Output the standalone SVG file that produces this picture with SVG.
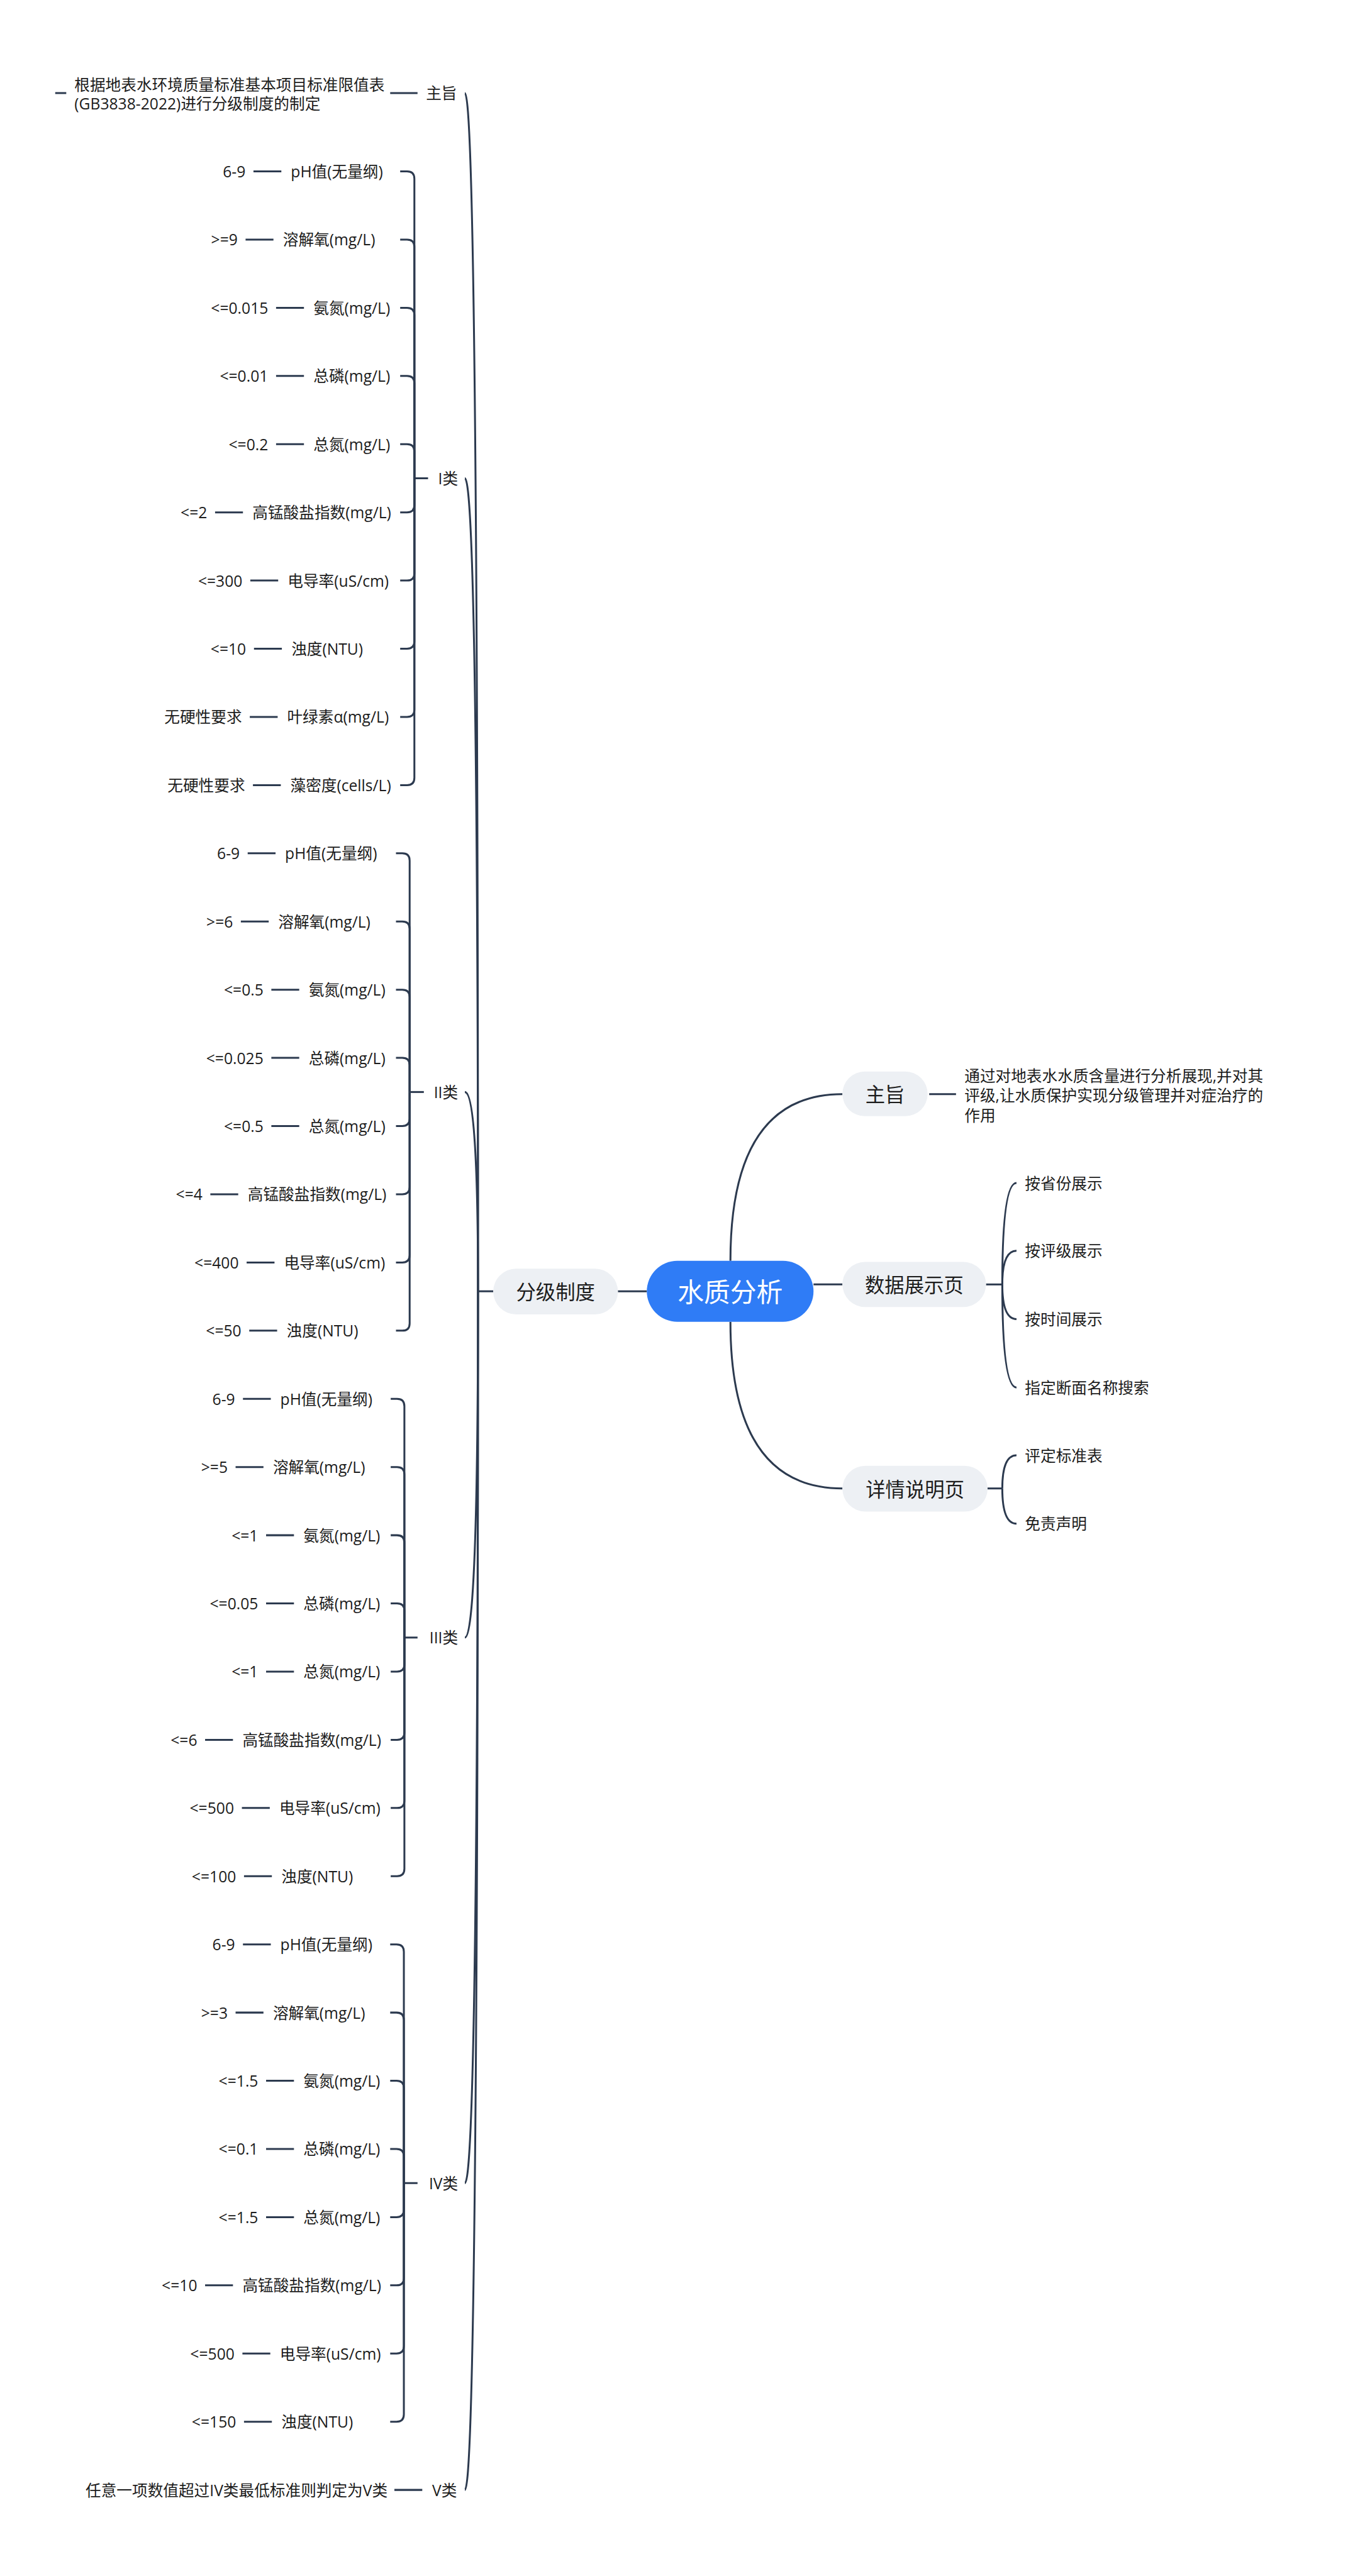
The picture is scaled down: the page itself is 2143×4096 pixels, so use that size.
<svg xmlns="http://www.w3.org/2000/svg" width="2143" height="4096" viewBox="0 0 2143 4096">
<style>
text{font-family:"Open Sans","Noto Sans CJK SC",sans-serif;dominant-baseline:central;fill:#1c1c1c}
.t{font-size:29.5px}
.v{font-size:29.5px;text-anchor:end}
.c{font-size:29.5px;text-anchor:end}
.m{font-size:37.5px;text-anchor:middle}
.r{font-size:50px;text-anchor:middle;fill:#ffffff}
.ln{fill:none;stroke:#2c3a4f;stroke-width:3.6;stroke-linecap:butt}
.b1{fill:#edf0f4}
</style>
<rect width="2143" height="4096" fill="#ffffff"/>
<g transform="scale(0.836)">
<g id="connectors" class="ln">
<path d="M1175 2456 L1230 2456"/>
<path d="M938 2456 L909 2456"/>
<path d="M909 2456 Q909 177 884 177"/>
<path d="M909 2456 Q909 909.7 884 909.7"/>
<path d="M909 2456 Q909 2077 884 2077"/>
<path d="M909 2456 Q909 3114.6 884 3114.6"/>
<path d="M909 2456 Q909 4152.2 884 4152.2"/>
<path d="M909 2456 Q909 4735.8 884 4735.8"/>
<path d="M794 177 L742 177"/>
<path d="M105 177 L126 177"/>
<path d="M803 4735.8 L750 4735.8"/>
<path d="M814 909.7 L788 909.7"/>
<path d="M806 2077 L779 2077"/>
<path d="M794 3114.6 L769 3114.6"/>
<path d="M794 4152.2 L768 4152.2"/>
<path d="M788 909.7 L788 340 Q788 326 774 326 L761 326"/>
<path d="M788 909.7 L788 469.7 Q788 455.7 774 455.7 L761 455.7"/>
<path d="M788 909.7 L788 599.4 Q788 585.4 774 585.4 L761 585.4"/>
<path d="M788 909.7 L788 729.1 Q788 715.1 774 715.1 L761 715.1"/>
<path d="M788 909.7 L788 858.8 Q788 844.8 774 844.8 L761 844.8"/>
<path d="M788 909.7 L788 960.5 Q788 974.5 774 974.5 L761 974.5"/>
<path d="M788 909.7 L788 1090.2 Q788 1104.2 774 1104.2 L761 1104.2"/>
<path d="M788 909.7 L788 1219.9 Q788 1233.9 774 1233.9 L761 1233.9"/>
<path d="M788 909.7 L788 1349.6 Q788 1363.6 774 1363.6 L761 1363.6"/>
<path d="M788 909.7 L788 1479.3 Q788 1493.3 774 1493.3 L761 1493.3"/>
<path d="M779 2077 L779 1637 Q779 1623 765 1623 L753 1623"/>
<path d="M779 2077 L779 1766.7 Q779 1752.7 765 1752.7 L753 1752.7"/>
<path d="M779 2077 L779 1896.4 Q779 1882.4 765 1882.4 L753 1882.4"/>
<path d="M779 2077 L779 2026.1 Q779 2012.1 765 2012.1 L753 2012.1"/>
<path d="M779 2077 L779 2127.8 Q779 2141.8 765 2141.8 L753 2141.8"/>
<path d="M779 2077 L779 2257.5 Q779 2271.5 765 2271.5 L753 2271.5"/>
<path d="M779 2077 L779 2387.2 Q779 2401.2 765 2401.2 L753 2401.2"/>
<path d="M779 2077 L779 2516.9 Q779 2530.9 765 2530.9 L753 2530.9"/>
<path d="M769 3114.6 L769 2674.6 Q769 2660.6 755 2660.6 L743 2660.6"/>
<path d="M769 3114.6 L769 2804.3 Q769 2790.3 755 2790.3 L743 2790.3"/>
<path d="M769 3114.6 L769 2934 Q769 2920 755 2920 L743 2920"/>
<path d="M769 3114.6 L769 3063.7 Q769 3049.7 755 3049.7 L743 3049.7"/>
<path d="M769 3114.6 L769 3165.4 Q769 3179.4 755 3179.4 L743 3179.4"/>
<path d="M769 3114.6 L769 3295.1 Q769 3309.1 755 3309.1 L743 3309.1"/>
<path d="M769 3114.6 L769 3424.8 Q769 3438.8 755 3438.8 L743 3438.8"/>
<path d="M769 3114.6 L769 3554.5 Q769 3568.5 755 3568.5 L743 3568.5"/>
<path d="M768 4152.2 L768 3712.2 Q768 3698.2 754 3698.2 L742 3698.2"/>
<path d="M768 4152.2 L768 3841.9 Q768 3827.9 754 3827.9 L742 3827.9"/>
<path d="M768 4152.2 L768 3971.6 Q768 3957.6 754 3957.6 L742 3957.6"/>
<path d="M768 4152.2 L768 4101.3 Q768 4087.3 754 4087.3 L742 4087.3"/>
<path d="M768 4152.2 L768 4203 Q768 4217 754 4217 L742 4217"/>
<path d="M768 4152.2 L768 4332.7 Q768 4346.7 754 4346.7 L742 4346.7"/>
<path d="M768 4152.2 L768 4462.4 Q768 4476.4 754 4476.4 L742 4476.4"/>
<path d="M768 4152.2 L768 4592.1 Q768 4606.1 754 4606.1 L742 4606.1"/>
<path d="M482 326 L535 326"/>
<path d="M467 455.7 L520 455.7"/>
<path d="M525 585.4 L578 585.4"/>
<path d="M525 715.1 L578 715.1"/>
<path d="M525 844.8 L578 844.8"/>
<path d="M409 974.5 L462 974.5"/>
<path d="M476 1104.2 L529 1104.2"/>
<path d="M483 1233.9 L536 1233.9"/>
<path d="M475 1363.6 L528 1363.6"/>
<path d="M481 1493.3 L534 1493.3"/>
<path d="M471 1623 L524 1623"/>
<path d="M458 1752.7 L511 1752.7"/>
<path d="M516 1882.4 L569 1882.4"/>
<path d="M516 2012.1 L569 2012.1"/>
<path d="M516 2141.8 L569 2141.8"/>
<path d="M400 2271.5 L453 2271.5"/>
<path d="M469 2401.2 L522 2401.2"/>
<path d="M474 2530.9 L527 2530.9"/>
<path d="M462 2660.6 L515 2660.6"/>
<path d="M448 2790.3 L501 2790.3"/>
<path d="M506 2920 L559 2920"/>
<path d="M506 3049.7 L559 3049.7"/>
<path d="M506 3179.4 L559 3179.4"/>
<path d="M390 3309.1 L443 3309.1"/>
<path d="M460 3438.8 L513 3438.8"/>
<path d="M464 3568.5 L517 3568.5"/>
<path d="M462 3698.2 L515 3698.2"/>
<path d="M448 3827.9 L501 3827.9"/>
<path d="M506 3957.6 L559 3957.6"/>
<path d="M506 4087.3 L559 4087.3"/>
<path d="M506 4217 L559 4217"/>
<path d="M390 4346.7 L443 4346.7"/>
<path d="M461 4476.4 L514 4476.4"/>
<path d="M464 4606.1 L517 4606.1"/>
<path d="M1547 2443 L1602 2443"/>
<path d="M1389 2398 Q1389 2081 1602 2081"/>
<path d="M1389 2514 Q1389 2831 1602 2831"/>
<path d="M1767 2081 L1818 2081"/>
<path d="M1875 2443 L1906 2443"/>
<path d="M1906 2443 Q1906 2250 1933 2250"/>
<path d="M1906 2443 Q1906 2379 1933 2379"/>
<path d="M1906 2443 Q1906 2509 1933 2509"/>
<path d="M1906 2443 Q1906 2639 1933 2639"/>
<path d="M1878 2831 L1906 2831"/>
<path d="M1906 2831 Q1906 2768 1933 2768"/>
<path d="M1906 2831 Q1906 2898 1933 2898"/>
</g>
<g id="root"><rect x="1230" y="2398" width="317" height="116" rx="58" fill="#2f7cf6"/><text class="r" x="1388.5" y="2456">水质分析</text></g>
<g id="fenji"><rect class="b1" x="938" y="2413" width="237" height="87" rx="43.5"/><text class="m" x="1056.5" y="2456.5">分级制度</text></g>
<g id="zhuzhi-r"><rect class="b1" x="1602" y="2038" width="162" height="85" rx="42.5"/><text class="m" x="1683" y="2080.5">主旨</text></g>
<g id="shuju"><rect class="b1" x="1602" y="2400" width="273" height="86" rx="43"/><text class="m" x="1738.5" y="2443">数据展示页</text></g>
<g id="xiangqing"><rect class="b1" x="1602" y="2788" width="276" height="87" rx="43.5"/><text class="m" x="1740" y="2831.5">详情说明页</text></g>
<g id="zhuzhi-r-desc"><text class="t" x="1834" y="2046">通过对地表水水质含量进行分析展现,并对其</text><text class="t" x="1834" y="2083.5">评级,让水质保护实现分级管理并对症治疗的</text><text class="t" x="1834" y="2121">作用</text></g>
<g id="sj1"><text class="t" x="1949" y="2250">按省份展示</text></g>
<g id="sj2"><text class="t" x="1949" y="2379">按评级展示</text></g>
<g id="sj3"><text class="t" x="1949" y="2509">按时间展示</text></g>
<g id="sj4"><text class="t" x="1949" y="2639">指定断面名称搜索</text></g>
<g id="xq1"><text class="t" x="1949" y="2768">评定标准表</text></g>
<g id="xq2"><text class="t" x="1949" y="2898">免责声明</text></g>
<g id="zhuzhi-l"><text class="c" x="869" y="177">主旨</text></g>
<g id="zhuzhi-l-desc"><text class="t" x="141.5" y="161">根据地表水环境质量标准基本项目标准限值表</text><text class="t" x="141.5" y="197">(GB3838-2022)进行分级制度的制定</text></g>
<g id="c1"><text class="c" x="871" y="909.7">I类</text></g>
<g id="c2"><text class="c" x="871" y="2077">II类</text></g>
<g id="c3"><text class="c" x="871" y="3114.6">III类</text></g>
<g id="c4"><text class="c" x="871" y="4152.2">IV类</text></g>
<g id="c5"><text class="c" x="869" y="4735.8">V类</text></g>
<g id="c5-desc"><text class="v" x="737" y="4735.8">任意一项数值超过IV类最低标准则判定为V类</text></g>
<g id="r0"><text class="t" x="553" y="326">pH值(无量纲)</text><text class="v" x="467" y="326">6-9</text></g>
<g id="r1"><text class="t" x="538" y="455.7">溶解氧(mg/L)</text><text class="v" x="452" y="455.7">&gt;=9</text></g>
<g id="r2"><text class="t" x="596" y="585.4">氨氮(mg/L)</text><text class="v" x="510" y="585.4">&lt;=0.015</text></g>
<g id="r3"><text class="t" x="596" y="715.1">总磷(mg/L)</text><text class="v" x="510" y="715.1">&lt;=0.01</text></g>
<g id="r4"><text class="t" x="596" y="844.8">总氮(mg/L)</text><text class="v" x="510" y="844.8">&lt;=0.2</text></g>
<g id="r5"><text class="t" x="480" y="974.5">高锰酸盐指数(mg/L)</text><text class="v" x="394" y="974.5">&lt;=2</text></g>
<g id="r6"><text class="t" x="547" y="1104.2">电导率(uS/cm)</text><text class="v" x="461" y="1104.2">&lt;=300</text></g>
<g id="r7"><text class="t" x="554" y="1233.9">浊度(NTU)</text><text class="v" x="468" y="1233.9">&lt;=10</text></g>
<g id="r8"><text class="t" x="546" y="1363.6">叶绿素α(mg/L)</text><text class="v" x="460" y="1363.6">无硬性要求</text></g>
<g id="r9"><text class="t" x="552" y="1493.3">藻密度(cells/L)</text><text class="v" x="466" y="1493.3">无硬性要求</text></g>
<g id="r10"><text class="t" x="542" y="1623">pH值(无量纲)</text><text class="v" x="456" y="1623">6-9</text></g>
<g id="r11"><text class="t" x="529" y="1752.7">溶解氧(mg/L)</text><text class="v" x="443" y="1752.7">&gt;=6</text></g>
<g id="r12"><text class="t" x="587" y="1882.4">氨氮(mg/L)</text><text class="v" x="501" y="1882.4">&lt;=0.5</text></g>
<g id="r13"><text class="t" x="587" y="2012.1">总磷(mg/L)</text><text class="v" x="501" y="2012.1">&lt;=0.025</text></g>
<g id="r14"><text class="t" x="587" y="2141.8">总氮(mg/L)</text><text class="v" x="501" y="2141.8">&lt;=0.5</text></g>
<g id="r15"><text class="t" x="471" y="2271.5">高锰酸盐指数(mg/L)</text><text class="v" x="385" y="2271.5">&lt;=4</text></g>
<g id="r16"><text class="t" x="540" y="2401.2">电导率(uS/cm)</text><text class="v" x="454" y="2401.2">&lt;=400</text></g>
<g id="r17"><text class="t" x="545" y="2530.9">浊度(NTU)</text><text class="v" x="459" y="2530.9">&lt;=50</text></g>
<g id="r18"><text class="t" x="533" y="2660.6">pH值(无量纲)</text><text class="v" x="447" y="2660.6">6-9</text></g>
<g id="r19"><text class="t" x="519" y="2790.3">溶解氧(mg/L)</text><text class="v" x="433" y="2790.3">&gt;=5</text></g>
<g id="r20"><text class="t" x="577" y="2920">氨氮(mg/L)</text><text class="v" x="491" y="2920">&lt;=1</text></g>
<g id="r21"><text class="t" x="577" y="3049.7">总磷(mg/L)</text><text class="v" x="491" y="3049.7">&lt;=0.05</text></g>
<g id="r22"><text class="t" x="577" y="3179.4">总氮(mg/L)</text><text class="v" x="491" y="3179.4">&lt;=1</text></g>
<g id="r23"><text class="t" x="461" y="3309.1">高锰酸盐指数(mg/L)</text><text class="v" x="375" y="3309.1">&lt;=6</text></g>
<g id="r24"><text class="t" x="531" y="3438.8">电导率(uS/cm)</text><text class="v" x="445" y="3438.8">&lt;=500</text></g>
<g id="r25"><text class="t" x="535" y="3568.5">浊度(NTU)</text><text class="v" x="449" y="3568.5">&lt;=100</text></g>
<g id="r26"><text class="t" x="533" y="3698.2">pH值(无量纲)</text><text class="v" x="447" y="3698.2">6-9</text></g>
<g id="r27"><text class="t" x="519" y="3827.9">溶解氧(mg/L)</text><text class="v" x="433" y="3827.9">&gt;=3</text></g>
<g id="r28"><text class="t" x="577" y="3957.6">氨氮(mg/L)</text><text class="v" x="491" y="3957.6">&lt;=1.5</text></g>
<g id="r29"><text class="t" x="577" y="4087.3">总磷(mg/L)</text><text class="v" x="491" y="4087.3">&lt;=0.1</text></g>
<g id="r30"><text class="t" x="577" y="4217">总氮(mg/L)</text><text class="v" x="491" y="4217">&lt;=1.5</text></g>
<g id="r31"><text class="t" x="461" y="4346.7">高锰酸盐指数(mg/L)</text><text class="v" x="375" y="4346.7">&lt;=10</text></g>
<g id="r32"><text class="t" x="532" y="4476.4">电导率(uS/cm)</text><text class="v" x="446" y="4476.4">&lt;=500</text></g>
<g id="r33"><text class="t" x="535" y="4606.1">浊度(NTU)</text><text class="v" x="449" y="4606.1">&lt;=150</text></g>
</g>
</svg>
